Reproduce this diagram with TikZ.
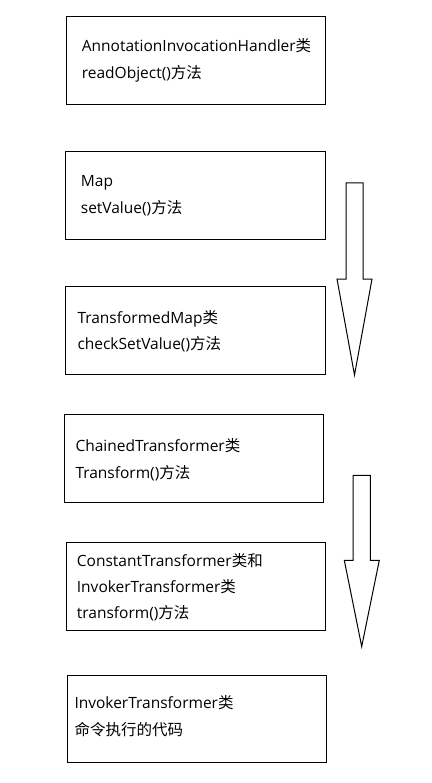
\documentclass[tikz,border=0pt]{standalone}
\usepackage{fontspec}
\setmainfont{Open Sans}
\newfontfamily\cjk{Noto Sans CJK SC}
\begin{document}
\begin{tikzpicture}[x=1pt,y=-1pt,
  box/.style={draw=black,line width=1pt,fill=white,inner sep=0pt},
  lbl/.style={anchor=base west,inner sep=0pt,font=\fontsize{15.5}{18}\selectfont},
  blockarrow/.style={draw=black,line width=1pt,fill=white,line join=miter}]
\useasboundingbox[fill=white] (0,0) rectangle (431,783);
% boxes
\node[box,minimum width=259pt,minimum height=87.6pt] (b1) at (196.2,60.5) {};
\node[box,minimum width=259.3pt,minimum height=87.6pt] (b2) at (195.35,195.5) {};
\node[box,minimum width=259.3pt,minimum height=87.6pt] (b3) at (195.35,330.5) {};
\node[box,minimum width=259pt,minimum height=87.6pt] (b4) at (194.2,458.5) {};
\node[box,minimum width=259pt,minimum height=87.3pt] (b5) at (196.2,586.35) {};
\node[box,minimum width=259.4pt,minimum height=87pt] (b6) at (197,719.2) {};
% texts
\node[lbl] (t1a) at (81.7,51.7) {AnnotationInvocationHandler{\cjk 类}};
\node[lbl] (t1b) at (81.7,78.3) {readObject(){\cjk 方法}};
\node[lbl] (t2a) at (80.7,186.7) {Map};
\node[lbl] (t2b) at (80.7,213.3) {setValue(){\cjk 方法}};
\node[lbl] (t3a) at (77.3,323.3) {TransformedMap{\cjk 类}};
\node[lbl] (t3b) at (77.3,349.3) {checkSetValue(){\cjk 方法}};
\node[lbl] (t4a) at (75.3,451.3) {ChainedTransformer{\cjk 类}};
\node[lbl] (t4b) at (75.3,478) {Transform(){\cjk 方法}};
\node[lbl] (t5a) at (76.7,566) {ConstantTransformer{\cjk 类和}};
\node[lbl] (t5b) at (76.7,592.3) {InvokerTransformer{\cjk 类}};
\node[lbl] (t5c) at (76.7,618.3) {transform(){\cjk 方法}};
\node[lbl] (t6a) at (74.3,708.3) {InvokerTransformer{\cjk 类}};
\node[lbl] (t6b) at (74.3,735) {{\cjk 命令执行的代码}};
% block arrows
\coordinate (a1) at (354.5,375);
\coordinate (a2) at (361.7,646.5);
\draw[blockarrow] (346,183) -- (363,183) -- (363,279) -- (372,279) -- (a1) -- (337,279) -- (346,279) -- cycle;
\draw[blockarrow] (353,475.3) -- (370.3,475.3) -- (370.3,560.3) -- (379.3,560.3) -- (a2) -- (344.3,560.3) -- (353,560.3) -- cycle;
\end{tikzpicture}
\end{document}
